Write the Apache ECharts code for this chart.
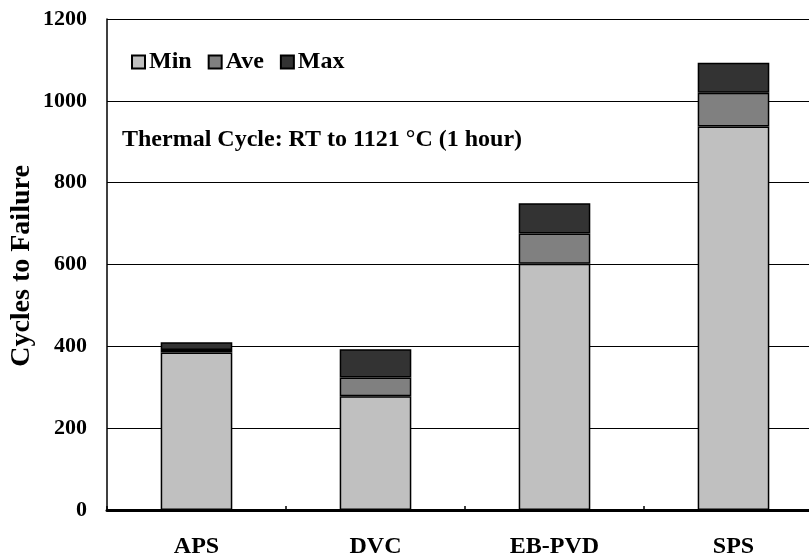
<!DOCTYPE html>
<html>
<head>
<meta charset="utf-8">
<script src="https://cdn.jsdelivr.net/npm/echarts@6/dist/echarts.min.js"></script>
<style>
  html, body { margin: 0; padding: 0; background: #fff; }
  #chart { width: 809px; height: 558px; }
</style>
</head>
<body>
<div id="chart"></div>
<script>
// Thermal cycling lifetime of coatings: minimum, average and maximum cycles
const categories = ['APS', 'DVC', 'EB-PVD', 'SPS'];
const minCycles = [385, 278, 602, 937];
const aveCycles = [391, 324, 676, 1020];
const maxCycles = [410, 393, 750, 1093];
const yTicks = [0, 200, 400, 600, 800, 1000, 1200];

// Stacked segments: Min, then the increment up to Ave, then up to Max
const aveStep = aveCycles.map((v, i) => v - minCycles[i]);
const maxStep = maxCycles.map((v, i) => v - aveCycles[i]);

const FONT = '"Liberation Serif", "Times New Roman", serif';

const chart = echarts.init(document.getElementById('chart'), null, { renderer: 'canvas' });

const seg = (name, data, color, bw) => ({
  name,
  type: 'bar',
  stack: 'cycles',
  data,
  barWidth: '40%',
  itemStyle: { color, borderColor: '#000', borderWidth: bw },
  emphasis: { disabled: true }
});

chart.setOption({
  animation: false,
  backgroundColor: '#fff',
  grid: { left: 107, top: 19, width: 716, height: 491, containLabel: false, outerBoundsMode: 'none' },
  legend: {
    left: 126,
    top: 45,
    itemWidth: 13,
    itemHeight: 13,
    itemGap: 16,
    icon: 'rect',
    textStyle: { fontFamily: FONT, fontWeight: 'bold', fontSize: 24, color: '#000', padding: [0, 0, 0, -1] },
    data: ['Min', 'Ave', 'Max']
  },
  graphic: [
    {
      type: 'text',
      left: 122,
      top: 128,
      style: {
        text: 'Thermal Cycle: RT to 1121 °C (1 hour)',
        font: 'bold 24px ' + FONT,
        fill: '#000'
      }
    },
    {
      // y-axis title, rotated to read bottom-to-top
      type: 'text',
      x: 22,
      y: 266,
      rotation: Math.PI / 2,
      style: {
        text: 'Cycles to Failure',
        font: 'bold 28px ' + FONT,
        fill: '#000',
        align: 'center',
        verticalAlign: 'middle'
      }
    }
  ],
  xAxis: {
    type: 'category',
    data: categories,
    axisLine: { lineStyle: { color: '#000', width: 3 } },
    axisTick: { show: true, inside: true, length: 4, lineStyle: { color: '#000', width: 1.5 } },
    axisLabel: { fontFamily: FONT, fontWeight: 'bold', fontSize: 24, color: '#000', margin: 25 }
  },
  yAxis: {
    type: 'value',
    min: yTicks[0],
    max: yTicks[yTicks.length - 1],
    interval: yTicks[1] - yTicks[0],
    axisLine: { show: true, lineStyle: { color: '#000', width: 1.5 } },
    axisTick: { show: false },
    axisLabel: {
      fontFamily: FONT, fontWeight: 'bold', fontSize: 22, color: '#000', margin: 20,
      formatter: (v) => String(v)
    },
    splitLine: { show: true, lineStyle: { color: '#000', width: 1.2 } }
  },
  series: [
    seg('Min', minCycles, '#c0c0c0', 1.5),
    seg('Ave', aveStep, '#808080', 1.5),
    seg('Max', maxStep, '#333333', 1.5)
  ]
});
</script>
</body>
</html>
